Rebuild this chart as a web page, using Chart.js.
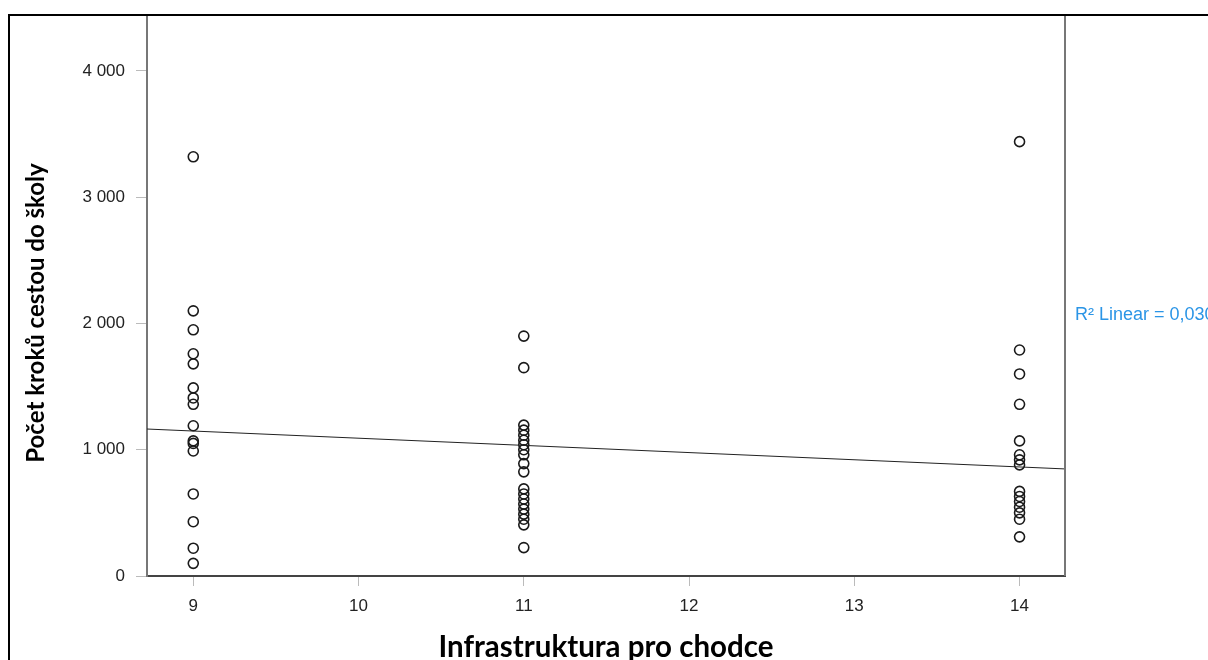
<!DOCTYPE html>
<html>
<head>
<meta charset="utf-8">
<script src="https://cdn.jsdelivr.net/npm/chart.js@4"></script>
<style>
  html, body { margin: 0; padding: 0; background: #fff; }
  #wrap { position: relative; width: 1208px; height: 660px; }
</style>
</head>
<body>
<div id="wrap"><canvas id="scatter-chart"></canvas></div>
<script>
// Values
const xLabel = 'Infrastruktura pro chodce';
const yLabel = 'Počet kroků cestou do školy';
const xRange = [8.72, 14.275];
const yRange = [0, 4443];
const xTicks = [9, 10, 11, 12, 13, 14];
const yTicks = [0, 1000, 2000, 3000, 4000];

const steps9 = [3320, 2100, 1950, 1760, 1680, 1490, 1410, 1360, 1190, 1070, 1050, 990, 650, 430, 220, 100];
const steps11 = [1900, 1650, 1195, 1155, 1115, 1075, 1040, 1000, 960, 890, 825, 690, 650, 610, 570, 530, 490, 450, 405, 225];
const steps14 = [3440, 1790, 1600, 1360, 1070, 960, 920, 880, 670, 630, 590, 545, 500, 450, 310];

// Linear fit line, ends at the plot edges
const fitX = [8.72, 14.275];
const fitY = [1164, 848];
const r2Text = 'R\u00B2 Linear = 0,030';
const r2Value = 2070; // vertical placement of the label in data units

// Build point list from the small arrays
const points = []
    .concat(steps9.map(v => ({ x: 9, y: v })))
    .concat(steps11.map(v => ({ x: 11, y: v })))
    .concat(steps14.map(v => ({ x: 14, y: v })));
const fitLine = fitX.map((x, i) => ({ x: x, y: fitY[i] }));

const tickFont = { family: '"Liberation Sans", Arial, sans-serif', size: 17 };

// Frame, right border, axis titles and R2 label
const decorations = {
    id: 'decorations',
    afterDraw(chart) {
        const ctx = chart.ctx;
        const area = chart.chartArea;
        const yScale = chart.scales.y;
        ctx.save();

        // right edge of the plot box
        ctx.strokeStyle = '#777';
        ctx.lineWidth = 2;
        ctx.beginPath();
        ctx.moveTo(area.right, area.top);
        ctx.lineTo(area.right, area.bottom);
        ctx.stroke();

        // outer black frame (cropped on the right and bottom)
        ctx.strokeStyle = '#000';
        ctx.lineWidth = 2;
        ctx.beginPath();
        ctx.moveTo(9, chart.height);
        ctx.lineTo(9, 15);
        ctx.lineTo(chart.width, 15);
        ctx.stroke();

        // x axis title
        ctx.fillStyle = '#000';
        ctx.textAlign = 'center';
        ctx.textBaseline = 'middle';
        ctx.font = 'bold 29.5px Lato, "Open Sans", sans-serif';
        ctx.fillText(xLabel, (area.left + area.right) / 2, 647);

        // y axis title
        ctx.font = 'bold 24px Lato, "Open Sans", sans-serif';
        ctx.translate(36, 313);
        ctx.rotate(-Math.PI / 2);
        ctx.fillText(yLabel, 0, 0);
        ctx.setTransform(1, 0, 0, 1, 0, 0);

        // R2 label to the right of the plot
        ctx.fillStyle = '#2b95e6';
        ctx.font = '18px "Liberation Sans", Arial, sans-serif';
        ctx.textAlign = 'left';
        ctx.fillText(r2Text, area.right + 10, yScale.getPixelForValue(r2Value));
        ctx.restore();
    }
};

const ctx = document.getElementById('scatter-chart').getContext('2d');
new Chart(ctx, {
    type: 'scatter',
    data: {
        datasets: [{
            label: 'Fit',
            type: 'line',
            data: fitLine,
            borderColor: '#222',
            borderWidth: 1,
            pointRadius: 0,
            fill: false,
        }, {
            label: 'Kroky',
            data: points,
            pointRadius: 5,
            pointBorderWidth: 1.6,
            borderColor: '#1a1a1a',
            backgroundColor: 'rgba(0,0,0,0)',
        }],
    },
    options: {
        responsive: true,
        maintainAspectRatio: false,
        animation: false,
        layout: { padding: { top: 15, right: 143, left: 0, bottom: 0 } },
        plugins: {
            legend: { display: false },
            tooltip: { enabled: false },
        },
        scales: {
            x: {
                type: 'linear',
                min: xRange[0],
                max: xRange[1],
                afterFit: scale => {
                    scale.height = 84;
                    scale.paddingLeft = 0;
                    scale.paddingRight = 0;
                },
                afterBuildTicks: scale => { scale.ticks = xTicks.map(v => ({ value: v })); },
                ticks: {
                    font: tickFont,
                    color: '#222',
                    padding: 10,
                },
                grid: {
                    drawOnChartArea: false,
                    tickLength: 10,
                    tickColor: '#bbb',
                },
                border: { color: '#444', width: 2 },
            },
            y: {
                type: 'linear',
                min: yRange[0],
                max: yRange[1],
                afterFit: scale => {
                    scale.width = 147;
                    scale.paddingTop = 0;
                    scale.paddingBottom = 0;
                },
                afterBuildTicks: scale => { scale.ticks = yTicks.map(v => ({ value: v })); },
                ticks: {
                    font: tickFont,
                    color: '#222',
                    padding: 11,
                    callback: v => String(v).replace(/\B(?=(\d{3})+(?!\d))/g, ' '),
                },
                grid: {
                    drawOnChartArea: false,
                    tickLength: 11,
                    tickColor: '#bbb',
                },
                border: { color: '#777', width: 2 },
            },
        },
    },
    plugins: [decorations],
});
</script>
</body>
</html>
